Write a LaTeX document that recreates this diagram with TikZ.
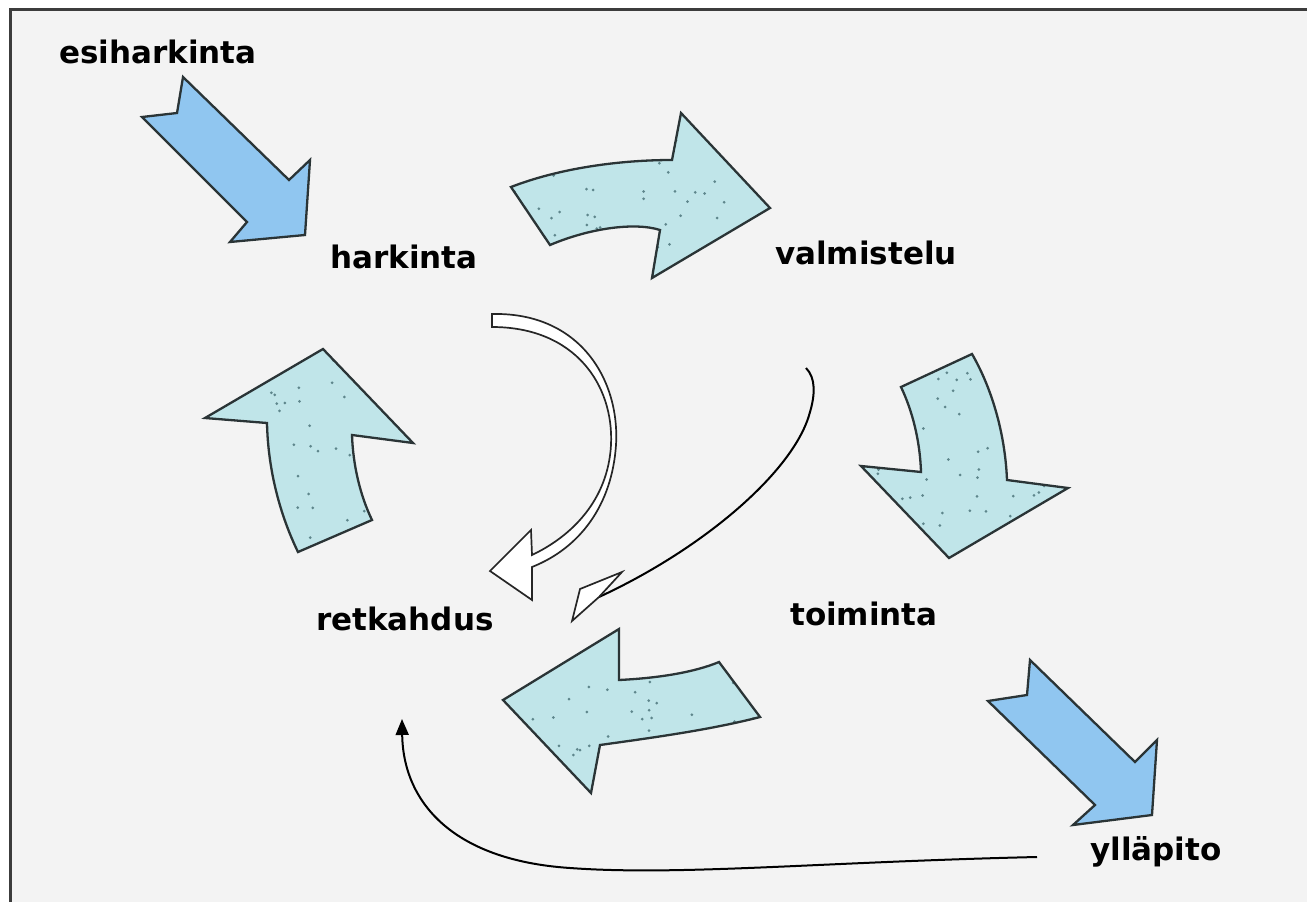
\documentclass[tikz,border=0pt]{standalone}
\usepackage{fontspec}
\setmainfont{DejaVu Sans}
\usetikzlibrary{arrows.meta}
\definecolor{bgc}{HTML}{F3F3F3}
\definecolor{framec}{HTML}{3C3C3C}
\definecolor{tealc}{HTML}{C0E5E9}
\definecolor{bluec}{HTML}{90C6F0}
\definecolor{dotc}{HTML}{5E868C}
\definecolor{edgec}{HTML}{2A3436}
\def\shpA{(511,187) .. controls (560,168) and (620,160) .. (672,160) -- (681,113) -- (770,208) -- (652,278) -- (660,230) .. controls (635,222) and (590,228) .. (550,245) -- cycle}
\def\shpB{(901,387) -- (972,354) .. controls (990,385) and (1005,430) .. (1007,480) -- (1068,488) -- (949,558) -- (861,466) -- (921,472) .. controls (920,440) and (912,410) .. (901,387) -- cycle}
\def\shpC{(719,662) -- (760,717) .. controls (710,730) and (650,738) .. (600,745) -- (591,793) -- (503,700) -- (619,629) -- (619,680) .. controls (660,678) and (695,672) .. (719,662) -- cycle}
\def\shpD{(323,349) -- (413,443) -- (352,435) .. controls (353,465) and (360,495) .. (372,520) -- (298,552) .. controls (280,515) and (268,470) .. (267,423) -- (205,418) -- cycle}
\def\shpE{(305,235) -- (230,242) -- (247,222) -- (142,117) -- (177,113) -- (183,77) -- (289,180) -- (310,160) -- cycle}
\def\shpF{(1152,815) -- (1073,825) -- (1095,805) -- (988,701) -- (1027,695) -- (1030,660) -- (1135,762) -- (1157,740) -- cycle}
\newcommand\sprinkle[5]{%
  \begin{scope}
    \clip #1;
    \foreach \i in {1,...,70}{%
      \pgfmathsetmacro\xx{#2+rnd*(#4-#2)}%
      \pgfmathsetmacro\yy{#3+rnd*(#5-#3)}%
      \fill[dotc] (\xx,\yy) circle (1.5pt);}
  \end{scope}}
\begin{document}
\begin{tikzpicture}[x=1pt,y=-1pt,
  lbl/.style={font=\bfseries\fontsize{31}{31}\selectfont, anchor=base west, inner sep=0pt, text=black},
  edge/.style={draw=edgec, line width=2.3pt, line join=miter},
  thin/.style={draw=black, line width=2pt},
  hollow/.style={draw=black!85, fill=white, line width=1.7pt, line join=miter}]
\pgfmathsetseed{11}
\useasboundingbox (0,0) rectangle (1307,902);
\fill[white] (0,0) rectangle (1307,902);
\fill[bgc] (10,9) rectangle (1307,902);
\draw[framec, line width=3pt] (10,902) -- (10,9) -- (1307,9);

% labels
\node[lbl] (esi) at (59,63) {esiharkinta};
\node[lbl] (hark) at (330,268) {harkinta};
\node[lbl] (valm) at (775,264) {valmistelu};
\node[lbl] (retk) at (316,630) {retkahdus};
\node[lbl] (toim) at (790,625) {toiminta};
\node[lbl] (yll) at (1090,860) {ylläpito};

% blue straight arrows
\filldraw[fill=bluec, edge] \shpE;
\filldraw[fill=bluec, edge] \shpF;

% teal curved arrows
\fill[tealc] \shpA; \sprinkle{\shpA}{505}{110}{775}{280} \draw[edge] \shpA;
\fill[tealc] \shpB; \sprinkle{\shpB}{858}{350}{1070}{560} \draw[edge] \shpB;
\fill[tealc] \shpC; \sprinkle{\shpC}{500}{625}{765}{795} \draw[edge] \shpC;
\fill[tealc] \shpD; \sprinkle{\shpD}{200}{345}{415}{555} \draw[edge] \shpD;

% hollow double-line arrow harkinta -> retkahdus
\path[hollow] (492,314) .. controls (580,312) and (620,380) .. (616,445)
  .. controls (612,505) and (580,548) .. (532,567) -- (532,600) -- (490,571)
  -- (531,530) -- (532,555) .. controls (572,536) and (608,500) .. (611,445)
  .. controls (614,385) and (575,327) .. (492,327) -- cycle;

% thin arrow valmistelu -> retkahdus
\coordinate (t0) at (806,368);
\coordinate (t1) at (599,597);
\draw[thin] (t0) .. controls (816,378) and (815,395) .. (810,412)
  .. controls (795,470) and (705,548) .. (t1);
\path[hollow] (622,572) -- (580,589) -- (572,621) -- (t1) -- cycle;

% ylläpito -> retkahdus
\coordinate (b0) at (1037,857);
\coordinate (b1) at (402,719);
\draw[thin, -{Triangle[length=16pt,width=13pt]}] (b0) .. controls (820,862) and (680,876) .. (570,868)
  .. controls (450,860) and (403,800) .. (b1);
\end{tikzpicture}
\end{document}
